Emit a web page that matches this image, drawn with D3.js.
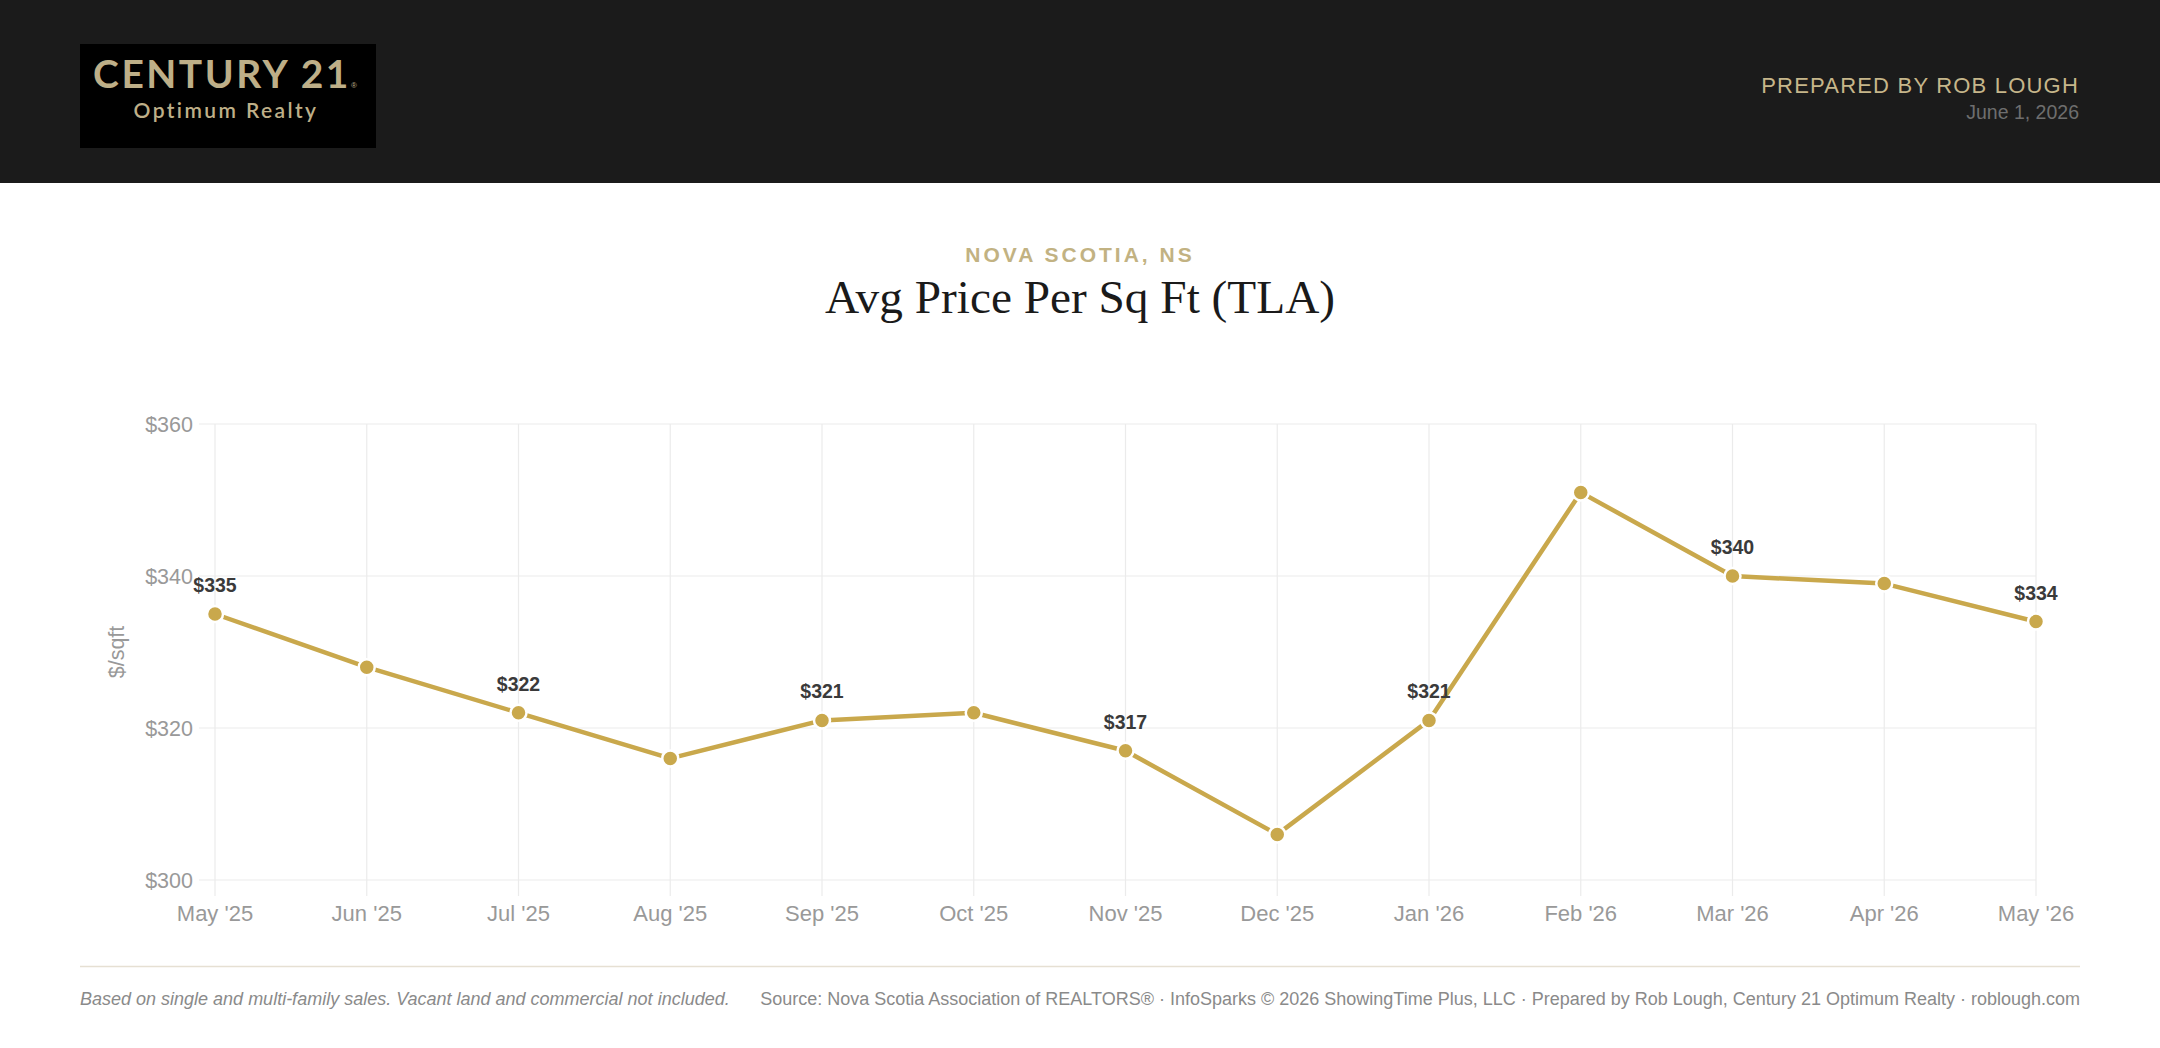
<!DOCTYPE html>
<html>
<head>
<meta charset="utf-8">
<script src="https://cdn.jsdelivr.net/npm/d3@7"></script>
<style>
  html, body { margin: 0; padding: 0; background: #ffffff; }
  svg { display: block; }
</style>
</head>
<body>
<script>
// ---- data ----
const months = ["May '25","Jun '25","Jul '25","Aug '25","Sep '25","Oct '25","Nov '25","Dec '25","Jan '26","Feb '26","Mar '26","Apr '26","May '26"];
const pricePerSqFt = [335, 328, 322, 316, 321, 322, 317, 306, 321, 351, 340, 339, 334];
const labeledIndexes = [0, 2, 4, 6, 8, 10, 12];
const yTicks = [300, 320, 340, 360];
const regionLabel = "NOVA SCOTIA, NS";
const chartTitle = "Avg Price Per Sq Ft (TLA)";
const yAxisTitle = "$/sqft";
const preparedBy = "PREPARED BY ROB LOUGH";
const reportDate = "June 1, 2026";
const footnoteLeft = "Based on single and multi-family sales. Vacant land and commercial not included.";
const footnoteRight = "Source: Nova Scotia Association of REALTORS® · InfoSparks © 2026 ShowingTime Plus, LLC · Prepared by Rob Lough, Century 21 Optimum Realty · roblough.com";

const W = 2160, H = 1048;
const svg = d3.select("body").append("svg").attr("width", W).attr("height", H);

// ---- header ----
svg.append("rect").attr("x",0).attr("y",0).attr("width",W).attr("height",183).attr("fill","#1b1b1b");
svg.append("rect").attr("x",80).attr("y",44).attr("width",296).attr("height",104).attr("fill","#000");
const logoC = "#beaf88";
svg.append("text").attr("x",222).attr("y",88).attr("text-anchor","middle")
  .attr("font-family","Lato, 'Noto Sans', sans-serif").attr("font-weight",700).attr("font-size",39)
  .attr("letter-spacing","2.5px").attr("fill",logoC).text("CENTURY 21");
svg.append("text").attr("x",351).attr("y",88).attr("font-family","Arial, sans-serif").attr("font-size",8).attr("fill",logoC).text("®");
svg.append("text").attr("x",226).attr("y",118).attr("text-anchor","middle")
  .attr("font-family","Lato, 'Noto Sans', sans-serif").attr("font-weight",600).attr("font-size",21)
  .attr("letter-spacing","2.4px").attr("fill",logoC).text("Optimum Realty");

svg.append("text").attr("x",2079).attr("y",93).attr("text-anchor","end")
  .attr("font-family","'Liberation Sans', Arial, sans-serif").attr("font-size",22)
  .attr("letter-spacing","1.2px").attr("fill","#c6b68a").text(preparedBy);
svg.append("text").attr("x",2079).attr("y",119).attr("text-anchor","end")
  .attr("font-family","'Liberation Sans', Arial, sans-serif").attr("font-size",19.5)
  .attr("fill","#6e6e6e").text(reportDate);

// ---- titles ----
svg.append("text").attr("x",1080).attr("y",262).attr("text-anchor","middle")
  .attr("font-family","'Liberation Sans', Arial, sans-serif").attr("font-weight",700).attr("font-size",21)
  .attr("letter-spacing","3px").attr("fill","#c2b282").text(regionLabel);
svg.append("text").attr("x",1080).attr("y",313).attr("text-anchor","middle")
  .attr("font-family","'Liberation Serif', 'Times New Roman', serif").attr("font-size",47.3)
  .attr("fill","#1a1a1a").text(chartTitle);

// ---- chart ----
const x = d3.scalePoint().domain(months).range([215, 2036]);
const y = d3.scaleLinear().domain([300, 360]).range([880, 424]);
const gridC = "#ebebeb";
const tickLen = 16;

const g = svg.append("g");
// horizontal grid
g.selectAll(".hg").data(yTicks).join("line")
  .attr("x1", x.range()[0] - tickLen).attr("x2", x.range()[1])
  .attr("y1", d => y(d)).attr("y2", d => y(d))
  .attr("stroke", gridC).attr("stroke-width", 1.2);
// vertical grid
g.selectAll(".vg").data(months).join("line")
  .attr("x1", d => x(d)).attr("x2", d => x(d))
  .attr("y1", y(360)).attr("y2", y(300) + tickLen)
  .attr("stroke", gridC).attr("stroke-width", 1.2);

// y tick labels
g.selectAll(".yl").data(yTicks).join("text")
  .attr("x", x.range()[0] - tickLen - 6).attr("y", d => y(d)).attr("dy","0.36em")
  .attr("text-anchor","end").attr("font-family","'Liberation Sans', Arial, sans-serif")
  .attr("font-size",21.5).attr("fill","#999").text(d => "$" + d);
// x tick labels
g.selectAll(".xl").data(months).join("text")
  .attr("x", d => x(d)).attr("y", 921)
  .attr("text-anchor","middle").attr("font-family","'Liberation Sans', Arial, sans-serif")
  .attr("font-size",22).attr("fill","#999").text(d => d);
// y axis title
g.append("text").attr("transform","translate(124," + ((y(300)+y(360))/2) + ") rotate(-90)")
  .attr("text-anchor","middle").attr("font-family","'Liberation Sans', Arial, sans-serif")
  .attr("font-size",21.5).attr("fill","#999").text(yAxisTitle);

// line
const lineC = "#c9a84c";
const line = d3.line().x((d,i) => x(months[i])).y(d => y(d));
g.append("path").datum(pricePerSqFt).attr("d", line)
  .attr("fill","none").attr("stroke",lineC).attr("stroke-width",4.5).attr("stroke-linejoin","round");
g.selectAll(".pt").data(pricePerSqFt).join("circle")
  .attr("cx", (d,i) => x(months[i])).attr("cy", d => y(d)).attr("r", 8)
  .attr("fill", lineC).attr("stroke","#fff").attr("stroke-width",2.5);
// data labels
g.selectAll(".dl").data(labeledIndexes).join("text")
  .attr("x", i => x(months[i])).attr("y", i => y(pricePerSqFt[i]) - 22)
  .attr("text-anchor","middle").attr("font-family","'Liberation Sans', Arial, sans-serif")
  .attr("font-weight",700).attr("font-size",19.5).attr("fill","#3a3a3a")
  .text(i => "$" + pricePerSqFt[i]);

// ---- footer ----
svg.append("line").attr("x1",80).attr("x2",2080).attr("y1",966.5).attr("y2",966.5)
  .attr("stroke","#e6e0d3").attr("stroke-width",1.5);
svg.append("text").attr("x",80).attr("y",1005)
  .attr("font-family","'Liberation Sans', Arial, sans-serif").attr("font-style","italic")
  .attr("font-size",18).attr("fill","#8a8a8a").text(footnoteLeft);
svg.append("text").attr("x",2080).attr("y",1005).attr("text-anchor","end")
  .attr("font-family","'Liberation Sans', Arial, sans-serif")
  .attr("font-size",18).attr("fill","#8a8a8a").text(footnoteRight);
</script>
</body>
</html>
